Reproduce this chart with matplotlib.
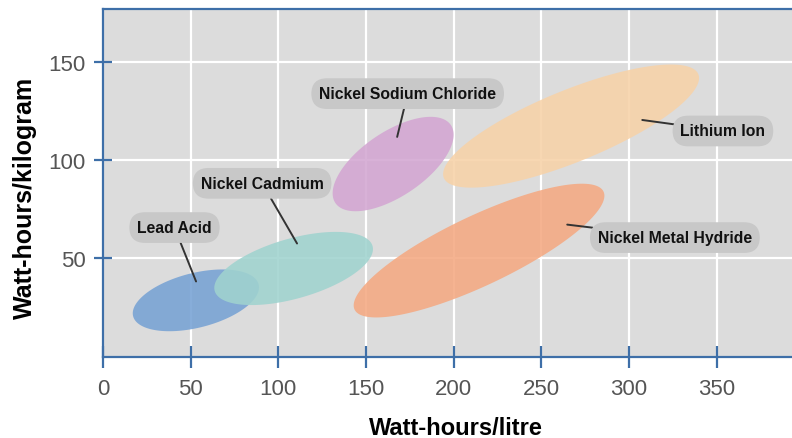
import numpy as np
import matplotlib
matplotlib.use("Agg")
import matplotlib.pyplot as plt

# energy density ranges per battery chemistry
chemistries = ["Lead Acid", "Nickel Cadmium", "Nickel Sodium Chloride",
               "Lithium Ion", "Nickel Metal Hydride"]
wh_per_litre_lo = [17, 63.5, 131, 194, 143]
wh_per_litre_hi = [89, 154, 200, 340, 286]
wh_per_kg_lo = [13, 26.3, 74, 86, 20]
wh_per_kg_hi = [44.4, 63.5, 122, 148.6, 88]
tilt = [0.42, 0.53, 0.62, 0.78, 0.82]   # correlation of the range ellipse
colors = ["#77a2d4", "#a0d3cf", "#d3a6d2", "#f7d2a8", "#f4a982"]

# label placement (text centre, leader target) in data units
label_xy = [(40.8, 65.7), (90.8, 88.2), (173.8, 133.8), (353.6, 114.8), (326.2, 60.6)]
target_xy = [(53.1, 38.3), (110.7, 57.6), (167.8, 111.8), (307.6, 120.4), (264.8, 67.2)]

x_ticks = [0, 50, 100, 150, 200, 250, 300, 350]
y_ticks = [50, 100, 150]

blue = "#3e6fa8"
sans = ["Liberation Sans", "DejaVu Sans"]
fig = plt.figure(figsize=(7.92, 4.39), dpi=100)
ax = fig.add_axes([0.130, 0.185, 0.870, 0.793])
ax.set_facecolor("#dcdcdc")
ax.set_xlim(0, 393)
ax.set_ylim(0, 177)

ax.grid(True, color="white", lw=1.6)
ax.set_axisbelow(True)

t = np.linspace(0, 2 * np.pi, 200)
for i in range(len(chemistries)):
    cx = (wh_per_litre_lo[i] + wh_per_litre_hi[i]) / 2
    cy = (wh_per_kg_lo[i] + wh_per_kg_hi[i]) / 2
    rx = (wh_per_litre_hi[i] - wh_per_litre_lo[i]) / 2
    ry = (wh_per_kg_hi[i] - wh_per_kg_lo[i]) / 2
    r = tilt[i]
    xs = cx + rx * np.cos(t)
    ys = cy + ry * (r * np.cos(t) - np.sqrt(1 - r * r) * np.sin(t))
    ax.fill(xs, ys, color=colors[i], alpha=0.88, lw=0, zorder=2)

for name, (lx, ly), (tx, ty) in zip(chemistries, label_xy, target_xy):
    ax.annotate(name, xy=(tx, ty), xytext=(lx, ly), ha="center", va="center",
                fontsize=11.3, fontweight="bold", color="#111111", family=sans,
                bbox=dict(boxstyle="round,pad=0.5,rounding_size=1.0",
                          fc="#c8c8c8", ec="none"),
                arrowprops=dict(arrowstyle="-", color="#333333", lw=1.4,
                                shrinkA=0, shrinkB=0),
                zorder=5)

ax.set_xticks(x_ticks)
ax.set_yticks(y_ticks)
ax.tick_params(axis="x", direction="inout", length=16, width=1.6, color=blue,
               labelsize=16, labelcolor="#555555", pad=7)
ax.tick_params(axis="y", direction="inout", length=13, width=1.6, color=blue,
               labelsize=16, labelcolor="#555555", pad=6)
for lab in ax.get_xticklabels() + ax.get_yticklabels():
    lab.set_family(sans)

for side in ["left", "bottom", "top"]:
    ax.spines[side].set_color(blue)
    ax.spines[side].set_linewidth(1.6)
ax.spines["right"].set_visible(False)

fig.text(0.576, 0.025, "Watt-hours/litre", ha="center", va="center",
         fontsize=17, fontweight="bold", family=sans)
fig.text(0.032, 0.549, "Watt-hours/kilogram", ha="center", va="center", rotation=90,
         fontsize=18, fontweight="bold", family=sans)

fig.savefig("out.png", dpi=100)
